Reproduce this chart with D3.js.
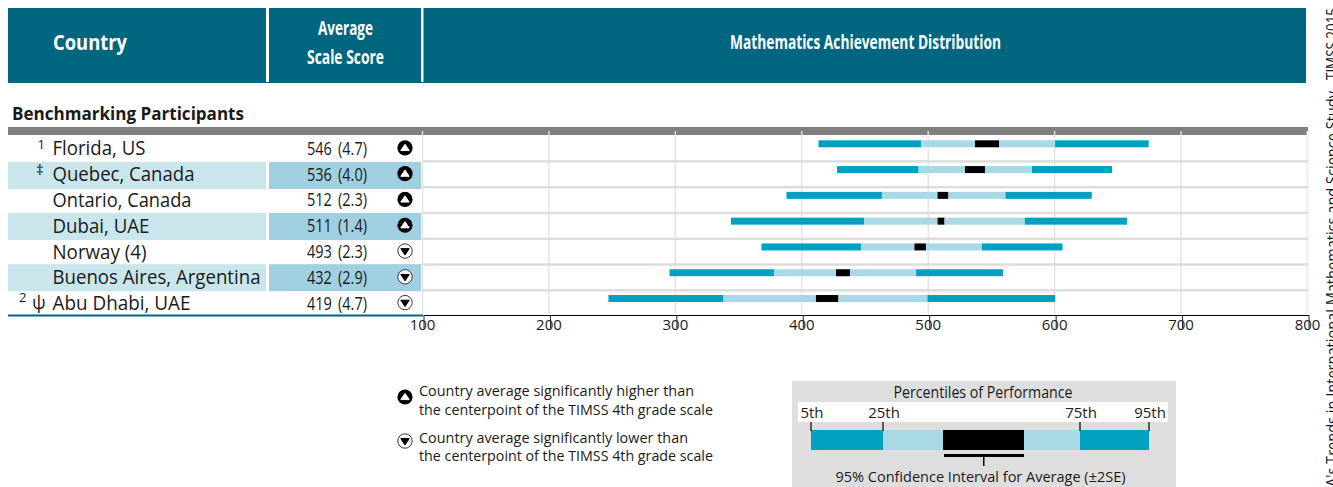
<!DOCTYPE html>
<html><head><meta charset="utf-8">
<script src="https://cdn.jsdelivr.net/npm/d3@7/dist/d3.min.js"></script>
<style>html,body{margin:0;padding:0;background:#fff;overflow:hidden}svg{display:block}text{font-family:"Open Sans",sans-serif;fill:#1a1a1a}</style>
</head><body><svg id="c" width="1333" height="487"></svg>
<script>
const countries=["Florida, US","Quebec, Canada","Ontario, Canada","Dubai, UAE","Norway (4)","Buenos Aires, Argentina","Abu Dhabi, UAE"];
const notes=["1","‡","","","","","2 ψ"];
const scores=["546 (4.7)","536 (4.0)","512 (2.3)","511 (1.4)","493 (2.3)","432 (2.9)","419 (4.7)"];
const higher=[true,true,true,true,false,false,false];
const p5=[412.8,427.5,387.5,343.6,367.7,295,246.7];
const p25=[494,492,463,448.8,446.4,377.6,337.7];
const ciLow=[536.6,528.7,507,507,488.7,426.7,410.8];
const ciHigh=[555.6,544.5,515.6,512.5,497.8,437.7,428.6];
const p75=[600,581.7,560.7,576,542,490,499];
const p95=[674,645,629,656.8,605.8,558.7,600];
const axisTicks=[100,200,300,400,500,600,700,800];
const legendStops=[0,72,132,213,269,338];
const legendLabels=[["5th",0],["25th",72],["75th",269],["95th",338]];

const DARK="#00a0c0",LIGHT="#a9d8e6",TEAL="#006680";
const svg=d3.select("#c");
const x=d3.scaleLinear().domain([100,800]).range([423,1308]);
const yRow=d3.scaleBand().domain(d3.range(countries.length)).range([135.5,316]);
const cy=i=>yRow(i)+yRow.bandwidth()/2;

function label(g,str,px,py,size,w,opt={}){
  const t=g.append("text").attr("x",px).attr("y",py).attr("font-size",size).text(str)
    .attr("font-weight",opt.bold?opt.bold:400).attr("text-anchor",opt.anchor||"start")
    .style("fill",opt.fill||null);
  if(opt.ws)t.style("word-spacing",opt.ws+"px");
  if(w){t.attr("textLength",w).attr("lengthAdjust","spacingAndGlyphs");}
  return t;
}
// header
svg.append("rect").attr("x",8).attr("y",8).attr("width",1298).attr("height",75).attr("fill",TEAL);
[[266,3],[421,2.5]].forEach(d=>svg.append("rect").attr("x",d[0]).attr("y",8).attr("width",d[1]).attr("height",74).attr("fill","#fff"));
label(svg,"Country",53,50,21,74,{bold:700,fill:"#fff"});
label(svg,"Average",318,35,19,55,{bold:700,fill:"#fff"});
label(svg,"Scale Score",307,64,19,77,{bold:700,fill:"#fff"});
label(svg,"Mathematics Achievement Distribution",730,49,19,271,{bold:700,fill:"#fff"});
label(svg,"Benchmarking Participants",12,120,18,232,{bold:700});
svg.append("rect").attr("x",8).attr("y",127).attr("width",1300).attr("height",8).attr("fill","#808080");

// row bands
const bandTops=[162,213,264.2];
[1,3,5].forEach((r,k)=>{
  svg.append("rect").attr("x",8).attr("y",bandTops[k]).attr("width",258).attr("height",27).attr("fill","#c9e6ec");
  svg.append("rect").attr("x",269).attr("y",bandTops[k]).attr("width",152).attr("height",27).attr("fill","#9fcfe0");
});
// grid
svg.append("g").selectAll("line").data(axisTicks).join("line")
  .attr("x1",d=>x(d)-0.5).attr("x2",d=>x(d)-0.5).attr("y1",131).attr("y2",314)
  .attr("stroke",d=>d===800?"#eeeeee":"#e2e2e2").attr("stroke-width",d=>d===800?2:1.4);
// row separators
svg.append("g").selectAll("rect").data(d3.range(1,7)).join("rect")
  .attr("x",423).attr("width",885).attr("y",i=>yRow(i)+0.1-1.2).attr("height",2.4).attr("fill","#dcdcdc");

// bars
const segs=[[p5,p25,DARK],[p25,ciLow,LIGHT],[ciLow,ciHigh,"#000"],[ciHigh,p75,LIGHT],[p75,p95,DARK]];
const barH=7;
segs.forEach(([a,b,col])=>{
  svg.append("g").selectAll("rect").data(countries.map((_,i)=>i)).join("rect")
    .attr("x",i=>x(a[i])).attr("width",i=>x(b[i])-x(a[i]))
    .attr("y",i=>yRow(i)+4.8).attr("height",barH).attr("fill",col);
});

// rows text
function marker(g,px,py,up){
  if(up){
    g.append("circle").attr("cx",px).attr("cy",py).attr("r",7.6).attr("fill","#000");
    g.append("path").attr("d",`M${px-4.2},${py+2.6}L${px},${py-3.6}L${px+4.2},${py+2.6}Z`).attr("fill","#fff").attr("stroke","#fff").attr("stroke-linejoin","round").attr("stroke-width",1);
  }else{
    g.append("circle").attr("cx",px).attr("cy",py).attr("r",7.2).attr("fill","#fff").attr("stroke","#222").attr("stroke-width",0.9);
    g.append("path").attr("d",`M${px-4.2},${py-2.4}L${px+4.2},${py-2.4}L${px},${py+4}Z`).attr("fill","#000").attr("stroke","#000").attr("stroke-linejoin","round").attr("stroke-width",1);
  }
}
const nameW=[93,142,139,97,94,208,138];
countries.forEach((c,i)=>{
  const mid=cy(i);
  label(svg,c,52.5,mid+7,20,nameW[i]);
  label(svg,scores[i],307,mid+6.5,18.5,60,{ws:3});
  marker(svg,405,mid-0.5,higher[i]);
});
// notes
label(svg,"1",37.5,149,13);
label(svg,"‡",36,175,15);
label(svg,"2",19,302,13);
label(svg,"ψ",32,309,18);
// bottom rule and axis
svg.append("rect").attr("x",8).attr("y",314.5).attr("width",415).attr("height",2).attr("fill",TEAL);
const ax=svg.append("g").attr("transform","translate(0.5,315)")
  .call(d3.axisBottom(x).tickValues(axisTicks).tickSize(13).tickSizeOuter(0).tickPadding(1));
ax.select(".domain").attr("stroke","#000").attr("stroke-width",1);
ax.selectAll(".tick line").attr("stroke","#222");
ax.selectAll(".tick text").attr("font-size",15).attr("font-family",'"Open Sans",sans-serif').attr("dx",-1.5).attr("dy","0.05em").style("fill","#1a1a1a");

// legend left
marker(svg,405,397,true);
marker(svg,405,441,false);
label(svg,"Country average significantly higher than",419,396,15,275);
label(svg,"the centerpoint of the TIMSS 4th grade scale",419,414.5,15,294);
label(svg,"Country average significantly lower than",419,443,15,269);
label(svg,"the centerpoint of the TIMSS 4th grade scale",419,461,15,294);

// legend box
svg.append("rect").attr("x",792).attr("y",381).attr("width",384).attr("height",106).attr("fill","#dedede");
svg.append("rect").attr("x",798).attr("y",402).attr("width",370).attr("height",20).attr("fill","#fff");
label(svg,"Percentiles of Performance",893.5,398,15.5,179);
const lx=d3.scaleLinear().domain([0,338]).range([811,1149]);
legendStops.slice(0,-1).forEach((s,i)=>{
  svg.append("rect").attr("x",lx(s)).attr("y",430).attr("width",lx(legendStops[i+1])-lx(s)).attr("height",20)
    .attr("fill",[DARK,LIGHT,"#000",LIGHT,DARK][i]);
});
legendLabels.forEach(([t,v])=>{
  svg.append("line").attr("x1",lx(v)).attr("x2",lx(v)).attr("y1",422).attr("y2",431).attr("stroke","#000").attr("stroke-width",1.2);
  label(svg,t,lx(v)+1,418,15,null,{anchor:"middle"});
});
svg.append("rect").attr("x",lx(132)+1).attr("y",454).attr("width",lx(213)-lx(132)-1).attr("height",3).attr("fill","#000");
svg.append("rect").attr("x",983).attr("y",457).attr("width",1.5).attr("height",9).attr("fill","#000");
label(svg,"95% Confidence Interval for Average (±2SE)",835.5,482,15,290);

// rotated source
svg.append("text").attr("transform","translate(1338,80) rotate(-90)").attr("font-size",15.5)
  .attr("textLength",72).attr("lengthAdjust","spacingAndGlyphs").text("TIMSS 2015");
svg.append("text").attr("transform","translate(1338,487) rotate(-90)").attr("font-size",15.5)
  .attr("textLength",396).attr("lengthAdjust","spacingAndGlyphs").text("A's Trends in International Mathematics and Science Study");
</script></body></html>
